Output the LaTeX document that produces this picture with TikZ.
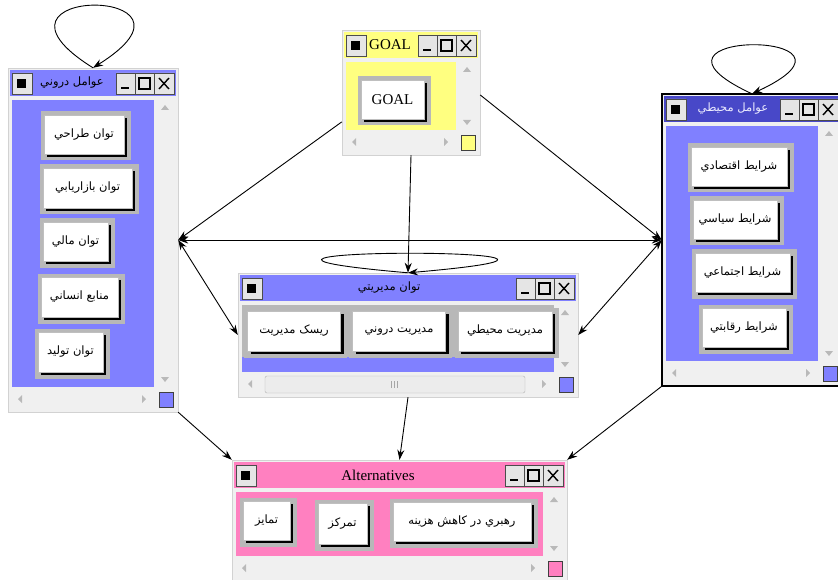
\documentclass[tikz,border=0pt]{standalone}
\usepackage{fontspec}
\setmainfont{Liberation Serif}
\newfontfamily\arabicfont[Script=Arabic]{DejaVu Sans}
\TeXXeTstate=1
\usetikzlibrary{arrows.meta,shadows}
\definecolor{wblue}{HTML}{8080FF}
\definecolor{wdark}{HTML}{4848C8}
\definecolor{wyellow}{HTML}{FFFF80}
\definecolor{wpink}{HTML}{FF80C0}
\definecolor{wframe}{HTML}{F0F0F0}
\definecolor{bgray}{HTML}{B8B8B8}
\newcommand\fa[1]{{\arabicfont\fontsize{11.5}{13}\selectfont\beginR #1\endR}}
\newcommand\winbox[9]{%
\node[win,minimum width={#4-#2},minimum height={#5-#3}] (#1) at ({(#2+#4)/2},{(#3+#5)/2}) {};
\fill[#6] (#2+2,#3+2) rectangle (#4-2,#3+28);
\fill[#7] (#2+4,#3+32) rectangle (#4-24,#5-25);
\fill[gray!12] (#4-22,#3+32) rectangle (#4-4,#5-25) (#2+4,#5-23) rectangle (#4-24,#5-4);
\fill[gray!55] (#4-13,#3+37) -- (#4-17,#3+42) -- (#4-9,#3+42) -- cycle (#4-13,#5-30) -- (#4-17,#5-35) -- (#4-9,#5-35) -- cycle
 (#2+10,#5-13) -- (#2+14,#5-17) -- (#2+14,#5-9) -- cycle (#4-32,#5-13) -- (#4-36,#5-17) -- (#4-36,#5-9) -- cycle;
\filldraw[fill=#7,draw=black!75] (#4-19,#5-20) rectangle (#4-5,#5-5);
\filldraw[tbtn] (#2+4,#3+5) rectangle (#2+24,#3+26) (#4-62,#3+5) rectangle (#4-43,#3+26) (#4-43,#3+5) rectangle (#4-24,#3+26) (#4-24,#3+5) rectangle (#4-4,#3+26);
\fill (#2+9,#3+11) rectangle (#2+18,#3+20);
\draw[line width=2pt] (#4-57,#3+20) -- (#4-49,#3+20);
\draw[line width=1.2pt] (#4-39,#3+10) rectangle (#4-28,#3+21);
\draw[line width=1.4pt] (#4-19,#3+10) -- (#4-9,#3+21) (#4-19,#3+21) -- (#4-9,#3+10);
\node at (#8,#3+15) {#9};}
\begin{document}
\begin{tikzpicture}[x=1pt,y=-1pt,font=\fontsize{15}{17}\selectfont,
 win/.style={draw=gray!35,fill=wframe,inner sep=0pt},
 tbtn/.style={fill=gray!20,draw=black!70,line width=0.8pt},
 btn/.style={fill=white,draw=gray!50,inner sep=2pt,
  preaction={draw=bgray,line width=10pt,transform canvas={shift={(1.5pt,-1.5pt)}}},
  drop shadow={shadow xshift=3pt,shadow yshift=-3pt,opacity=1,fill=black}},
 arr/.style={line width=0.9pt,-{Stealth[length=10pt,width=7pt]}},
 dar/.style={line width=0.9pt,{Stealth[length=10pt,width=7pt]}-{Stealth[length=10pt,width=7pt]}}]
\clip (0,0) rectangle (838,580);
\fill[white] (0,0) rectangle (838,580);
\winbox{I}{8}{68}{178}{412}{wblue}{wblue}{72}{\fa{عوامل دروني}}
\winbox{G}{342}{30}{480}{155}{wyellow}{wyellow}{390}{GOAL}
\winbox{E}{662}{94}{842}{386}{wdark}{wblue}{733}{\color{white!85!wblue}\fa{عوامل محيطي}}
\winbox{M}{238}{273}{578}{397}{wblue}{bgray}{389}{\fa{توان مديريتي}}
\winbox{A}{232}{460}{567}{581}{wpink}{wpink}{378}{Alternatives}
\draw[line width=1.8pt] (E.north west) rectangle (E.south east);
\fill[wblue] (242,357) rectangle (554,372);
\filldraw[fill=wblue,draw=black!75] (559,377) rectangle (573,392);
\draw[fill=gray!15,draw=gray!60,rounded corners=2pt] (265,376) rectangle (525,393);
\draw[gray!70] (391,381) -- (391,388) (394,381) -- (394,388) (397,381) -- (397,388);
\node[btn,minimum width=80,minimum height=39] (I1) at (84,134.5) {\fa{توان طراحي}};
\node[btn,minimum width=89,minimum height=40] (I2) at (87.5,188) {\fa{توان بازاريابي}};
\node[btn,minimum width=65,minimum height=39] (I3) at (75.5,241.5) {\fa{توان مالي}};
\node[btn,minimum width=77,minimum height=40] (I4) at (79.5,297) {\fa{منابع انساني}};
\node[btn,minimum width=65,minimum height=40] (I5) at (70.5,352) {\fa{توان توليد}};
\node[btn,minimum width=63,minimum height=39] (G1) at (392.5,99.5) {GOAL};
\node[btn,minimum width=96,minimum height=39] (E1) at (739,166.5) {\fa{شرايط اقتصادي}};
\node[btn,minimum width=84,minimum height=39] (E2) at (735,219.5) {\fa{شرايط سياسي}};
\node[btn,minimum width=95,minimum height=39] (E3) at (742.5,272.5) {\fa{شرايط اجتماعي}};
\node[btn,minimum width=84,minimum height=39] (E4) at (744,327.5) {\fa{شرايط رقابتي}};
\node[btn,minimum width=93,minimum height=40] (M1) at (294,331) {\fa{ريسک مديريت}};
\node[btn,minimum width=93,minimum height=40] (M2) at (399,331) {\fa{مديريت دروني}};
\node[btn,minimum width=94,minimum height=40] (M3) at (505,331) {\fa{مديريت محيطي}};
\node[btn,minimum width=47,minimum height=39] (A1) at (266.5,520.5) {\fa{تمايز}};
\node[btn,minimum width=49,minimum height=41] (A2) at (342.5,523.5) {\fa{تمرکز}};
\node[btn,minimum width=138,minimum height=39] (A3) at (462,521.5) {\fa{رهبري در کاهش هزينه}};
\draw[arr] (I.north) .. controls +(-133,-83) and +(133,-83) .. (I.north);
\draw[arr] (E.north) .. controls +(-140,-65) and +(140,-65) .. (E.north);
\draw[arr] (M.north) .. controls +(-300,-26) and +(300,-26) .. (M.north);
\draw[arr] (G.203) -- (I.east);
\draw[arr] (G.-2) -- (E.west);
\draw[arr] (G.south) -- (M.north);
\draw[dar] (I.east) -- (E.west);
\draw[dar] (I.east) -- (M.west);
\draw[dar] (E.west) -- (M.east);
\draw[arr] (I.south east) -- (A.north west);
\draw[arr] (M.south) -- (A.north);
\draw[arr] (E.south west) -- (A.north east);
\end{tikzpicture}
\end{document}
